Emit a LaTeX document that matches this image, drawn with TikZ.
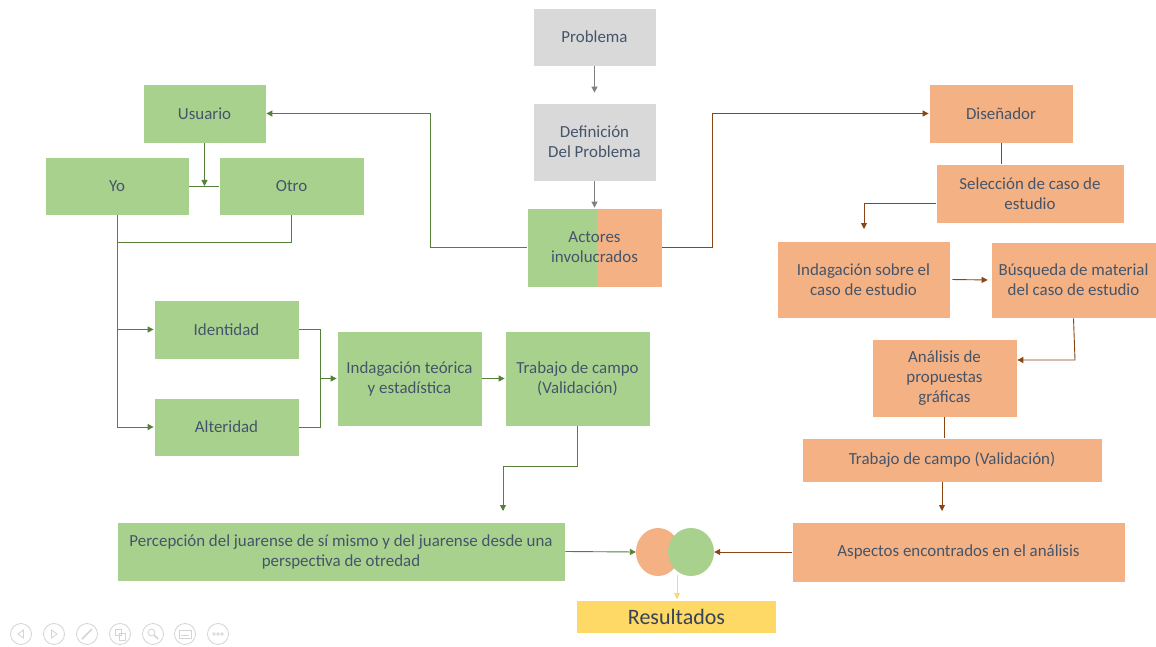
\documentclass[tikz,border=0pt]{standalone}
\usepackage{fontspec}
\setmainfont{Carlito}
\usetikzlibrary{arrows.meta,calc,shapes.geometric}
\definecolor{gfill}{HTML}{A9D18E}
\definecolor{ofill}{HTML}{F4B183}
\definecolor{grayfill}{HTML}{D9D9D9}
\definecolor{txt}{HTML}{44546A}
\definecolor{gline}{HTML}{54803A}
\definecolor{oline}{HTML}{8B4513}
\definecolor{grline}{HTML}{808080}
\definecolor{yfill}{HTML}{FFD966}
\definecolor{iconc}{HTML}{D4D4D4}
\begin{document}
\begin{tikzpicture}[x=1pt,y=-1pt,
  font=\fontsize{16.9}{20}\selectfont,
  box/.style={draw=white, line width=0.8pt, text=txt, align=center, inner sep=2pt},
  gbox/.style={box, fill=gfill},
  obox/.style={box, fill=ofill},
  graybox/.style={box, fill=grayfill},
  tip/.style={-{Triangle[width=6pt,length=6pt]}},
  gl/.style={draw=gline, line width=0.9pt},
  ol/.style={draw=oline, line width=0.9pt},
  gla/.style={gl, tip},
  ola/.style={ol, tip},
  grla/.style={draw=grline, line width=0.9pt, tip},
  icon/.style={draw=iconc, line width=0.8pt}
]
\useasboundingbox[fill=white] (0,0) rectangle (1156,647);

% center column
\node[graybox, minimum width=123pt, minimum height=58pt] (prob) at (594.5,37) {Problema};
\node[graybox, minimum width=123pt, minimum height=78pt] (def) at (594.5,142) {Definición\\Del Problema};
\fill[gfill] (527,208) rectangle (597,287);
\fill[ofill] (597,208) rectangle (662,287);
\node[box, minimum width=135pt, minimum height=79pt] (act) at (594.5,247.5) {Actores\\involucrados};

% left side
\node[gbox, minimum width=123pt, minimum height=59pt] (usu) at (204.5,113.5) {Usuario};
\node[gbox, minimum width=144pt, minimum height=58pt] (yo) at (117,186) {Yo};
\node[gbox, minimum width=145pt, minimum height=58pt] (otro) at (291.5,186) {Otro};
\node[gbox, minimum width=145pt, minimum height=59pt] (iden) at (226.5,329.5) {Identidad};
\node[gbox, minimum width=145pt, minimum height=58pt] (alt) at (226.5,427) {Alteridad};
\node[gbox, minimum width=145pt, minimum height=95pt] (indt) at (409.5,378.5) {Indagación teórica\\y estadística};
\node[gbox, minimum width=145pt, minimum height=95pt] (trav) at (577.5,378.5) {Trabajo de campo\\(Validación)};
\node[gbox, minimum width=448pt, minimum height=59pt] (perc) at (341,551.5) {Percepción del juarense de sí mismo y del juarense desde una\\perspectiva de otredad};

% right side
\node[obox, minimum width=144pt, minimum height=59pt] (dis) at (1001,113.5) {Diseñador};
\node[obox, minimum width=188pt, minimum height=59pt] (sel) at (1030,193.5) {Selección de caso de\\estudio};
\node[obox, minimum width=173pt, minimum height=77pt] (inds) at (863.5,279.5) {Indagación sobre el\\caso de estudio};
\node[obox, minimum width=165pt, minimum height=76pt] (bus) at (1073.5,280) {Búsqueda de material\\del caso de estudio};
\node[obox, minimum width=145pt, minimum height=78pt] (ana) at (944.5,378) {Análisis de\\propuestas\\gráficas};
\node[obox, minimum width=300pt, minimum height=44pt] (trao) at (952,460) {Trabajo de campo (Validación)};
\node[obox, minimum width=333pt, minimum height=60pt] (asp) at (958.5,552) {Aspectos encontrados en el análisis};

% result
\node[ellipse, fill=ofill, minimum width=44pt, minimum height=48pt, inner sep=0pt] (oc) at (658,552) {};
\node[ellipse, fill=gfill, minimum width=46pt, minimum height=48pt, inner sep=0pt] (gc) at (691,552) {};
\node[box, draw=none, fill=yfill, minimum width=199pt, minimum height=32pt, font=\fontsize{22}{26}\selectfont, text=txt!80!black] (res) at (676.5,617) {Resultados};

% coordinates
\coordinate (kL) at (430,113.5);
\coordinate (kR) at (712,113.5);
\coordinate (jYO) at (204.5,186);
\coordinate (kY) at (117,242);
\coordinate (kM) at (320,378.5);
\coordinate (kP) at (503,466);
\coordinate (kP2) at (503,511);
\coordinate (kS) at (936,203);
\coordinate (kS2) at (864,229);
\coordinate (kB) at (1075,360);
\coordinate (kT) at (942,511);
\coordinate (kC) at (677,575);
\coordinate (kC2) at (677,599);

% center connectors
\draw[grla, shorten >=10pt] (prob.south) -- (def.north);
\draw[grla] (def.south) -- (act.north);
\draw[gla] (act.west) -| (kL) -- (usu.east);
\draw[ola] (act.east) -| (kR) -- (dis.west);

% left connectors
\draw[gla] (usu.south) -- (jYO);
\draw[gl] (yo.east) -- (otro.west);
\draw[gl] (otro.south) |- (kY);
\draw[gla] (yo.south) |- (iden.west);
\draw[gla] (yo.south) |- (alt.west);
\draw[gl] (iden.east) -| (kM);
\draw[gl] (alt.east) -| (kM);
\draw[gla] (kM) -- (indt.west);
\draw[gla] (indt.east) -- (trav.west);
\draw[gla] (trav.south) |- (kP) -- (kP2);
\draw[gla] (perc.east) -- (oc.west);

% right connectors
\draw[ol] (dis.south) -- (dis.south |- sel.north);
\draw[ola] (kS) -| (kS2);
\draw[ola, shorten <=2pt, shorten >=3pt] (inds.east) -- (bus.west);
\draw[ola] (bus.south) -- (kB) -- (kB -| ana.east);
\draw[ol] (ana.south) -- (ana.south |- trao.north);
\draw[ola] (kT |- trao.south) -- (kT);
\draw[ola] (asp.west) -- (gc.east);
\draw[draw=yfill, line width=0.9pt, tip] (kC) -- (kC2);

% slideshow controls
\foreach \cx/\nm in {21/a,54/b,87/c,120/d,153/e,185/f,218/g}
  \node[circle, icon, minimum size=21pt, inner sep=0pt] (ic\nm) at (\cx,634) {};
\draw[icon] ($(ica)+(2.5,-4)$) -- ($(ica)+(-3,0)$) -- ($(ica)+(2.5,4)$) -- cycle;
\draw[icon] ($(icb)+(-2.5,-4)$) -- ($(icb)+(3,0)$) -- ($(icb)+(-2.5,4)$) -- cycle;
\draw[icon, line width=1.6pt] ($(icc)+(-5,5)$) -- ($(icc)+(5,-5)$);
\draw[icon] ($(icd)+(-5,-5)$) rectangle ($(icd)+(1,1)$);
\draw[icon] ($(icd)+(-1,-1)$) rectangle ($(icd)+(5,6)$);
\draw[icon] ($(ice)+(-1.5,-1.5)$) circle (3.5pt);
\draw[icon, line width=1.6pt] ($(ice)+(1,1)$) -- ($(ice)+(5,5)$);
\draw[icon] ($(icf)+(-6,-4)$) rectangle ($(icf)+(6,4)$);
\draw[icon] ($(icf)+(-4,1.5)$) -- ($(icf)+(4,1.5)$);
\foreach \dx in {-4,0,4} \draw[icon, line width=0.6pt] ($(icg)+(\dx,0)$) circle (1.4pt);
\end{tikzpicture}
\end{document}
